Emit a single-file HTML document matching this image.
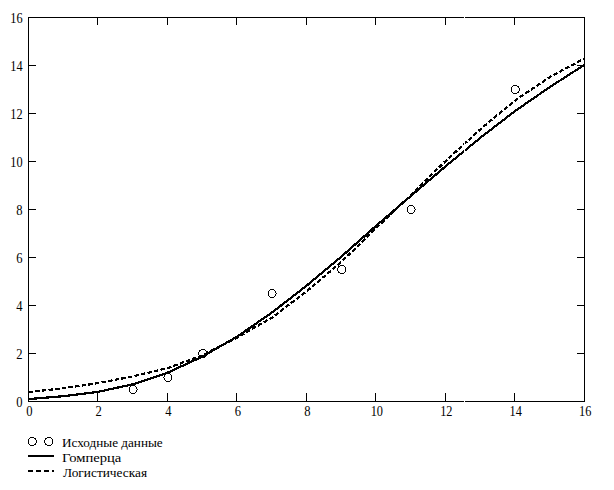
<!DOCTYPE html><html><head><meta charset="utf-8"><style>html,body{margin:0;padding:0;background:#fff;overflow:hidden}svg{display:block}text{font-family:"Liberation Serif",serif;font-size:13.33px;fill:#000}.t{font-size:13.6px}</style></head><body>
<svg width="614" height="490" viewBox="0 0 614 490">
<rect x="0" y="0" width="614" height="490" fill="#fff"/>
<g stroke="#000" stroke-width="1" fill="none" shape-rendering="crispEdges">
<rect x="28.5" y="17.5" width="556" height="384"/>
<line x1="97.5" y1="18" x2="97.5" y2="25"/>
<line x1="97.5" y1="393" x2="97.5" y2="401"/>
<line x1="29" y1="353.5" x2="36" y2="353.5"/>
<line x1="577" y1="353.5" x2="584" y2="353.5"/>
<line x1="167.5" y1="18" x2="167.5" y2="25"/>
<line x1="167.5" y1="393" x2="167.5" y2="401"/>
<line x1="29" y1="305.5" x2="36" y2="305.5"/>
<line x1="577" y1="305.5" x2="584" y2="305.5"/>
<line x1="236.5" y1="18" x2="236.5" y2="25"/>
<line x1="236.5" y1="393" x2="236.5" y2="401"/>
<line x1="29" y1="257.5" x2="36" y2="257.5"/>
<line x1="577" y1="257.5" x2="584" y2="257.5"/>
<line x1="306.5" y1="18" x2="306.5" y2="25"/>
<line x1="306.5" y1="393" x2="306.5" y2="401"/>
<line x1="29" y1="209.5" x2="36" y2="209.5"/>
<line x1="577" y1="209.5" x2="584" y2="209.5"/>
<line x1="375.5" y1="18" x2="375.5" y2="25"/>
<line x1="375.5" y1="393" x2="375.5" y2="401"/>
<line x1="29" y1="161.5" x2="36" y2="161.5"/>
<line x1="577" y1="161.5" x2="584" y2="161.5"/>
<line x1="445.5" y1="18" x2="445.5" y2="25"/>
<line x1="445.5" y1="393" x2="445.5" y2="401"/>
<line x1="29" y1="113.5" x2="36" y2="113.5"/>
<line x1="577" y1="113.5" x2="584" y2="113.5"/>
<line x1="514.5" y1="18" x2="514.5" y2="25"/>
<line x1="514.5" y1="393" x2="514.5" y2="401"/>
<line x1="29" y1="65.5" x2="36" y2="65.5"/>
<line x1="577" y1="65.5" x2="584" y2="65.5"/>
</g>
<g fill="none" stroke="#000" stroke-width="2" shape-rendering="crispEdges" stroke-linejoin="round">
<polyline points="28.50,399.10 63.25,396.22 98.00,391.90 132.75,384.27 167.50,372.70 202.25,356.67 237.00,336.70 271.75,312.69 306.50,285.76 341.25,256.71 376.00,225.82 410.75,196.14 445.50,166.37 480.25,137.86 515.00,111.07 549.75,87.10 584.50,64.78" stroke-width="2.2"/>
<polyline points="28.50,392.06 63.25,388.31 98.00,383.14 132.75,376.42 167.50,368.14 202.25,355.42 237.00,337.66 271.75,317.74 306.50,291.47 341.25,262.01 376.00,228.22 410.75,195.04 445.50,161.11 480.25,129.40 515.00,100.54 549.75,77.02 584.50,58.49" stroke-width="2.2" stroke-dasharray="4.5 2.2"/>
<line x1="28" y1="456" x2="54" y2="456"/>
<line x1="28" y1="471" x2="54" y2="471" stroke-dasharray="5 3"/>
</g>
<g fill="none" stroke="#000" stroke-width="1" shape-rendering="crispEdges">
<circle cx="133.15" cy="389.50" r="4"/>
<circle cx="167.90" cy="377.50" r="4"/>
<circle cx="202.65" cy="353.50" r="4"/>
<circle cx="272.15" cy="293.50" r="4"/>
<circle cx="341.65" cy="269.50" r="4"/>
<circle cx="411.15" cy="209.50" r="4"/>
<circle cx="515.40" cy="89.50" r="4"/>
<circle cx="32.4" cy="441.5" r="4"/><circle cx="48.7" cy="441.5" r="4"/>
</g>
<text class="t" x="16.3" y="407.2" textLength="6.3" lengthAdjust="spacingAndGlyphs">0</text>
<text class="t" x="26.2" y="416.1" textLength="6.3" lengthAdjust="spacingAndGlyphs">0</text>
<text class="t" x="16.3" y="359.2" textLength="6.3" lengthAdjust="spacingAndGlyphs">2</text>
<text class="t" x="95.6" y="416.1" textLength="6.3" lengthAdjust="spacingAndGlyphs">2</text>
<text class="t" x="16.3" y="311.2" textLength="6.3" lengthAdjust="spacingAndGlyphs">4</text>
<text class="t" x="165.2" y="416.1" textLength="6.3" lengthAdjust="spacingAndGlyphs">4</text>
<text class="t" x="16.3" y="263.2" textLength="6.3" lengthAdjust="spacingAndGlyphs">6</text>
<text class="t" x="234.7" y="416.1" textLength="6.3" lengthAdjust="spacingAndGlyphs">6</text>
<text class="t" x="16.3" y="215.2" textLength="6.3" lengthAdjust="spacingAndGlyphs">8</text>
<text class="t" x="304.2" y="416.1" textLength="6.3" lengthAdjust="spacingAndGlyphs">8</text>
<text class="t" x="10.3" y="167.2" textLength="12.3" lengthAdjust="spacingAndGlyphs">10</text>
<text class="t" x="370.7" y="416.1" textLength="12.3" lengthAdjust="spacingAndGlyphs">10</text>
<text class="t" x="10.3" y="119.2" textLength="12.3" lengthAdjust="spacingAndGlyphs">12</text>
<text class="t" x="440.2" y="416.1" textLength="12.3" lengthAdjust="spacingAndGlyphs">12</text>
<text class="t" x="10.3" y="71.2" textLength="12.3" lengthAdjust="spacingAndGlyphs">14</text>
<text class="t" x="509.6" y="416.1" textLength="12.3" lengthAdjust="spacingAndGlyphs">14</text>
<text class="t" x="10.3" y="23.2" textLength="12.3" lengthAdjust="spacingAndGlyphs">16</text>
<text class="t" x="579.1" y="416.1" textLength="12.3" lengthAdjust="spacingAndGlyphs">16</text>
<text x="62" y="447" textLength="100.7" lengthAdjust="spacingAndGlyphs">Исходные данные</text>
<text x="62" y="462" textLength="59.3" lengthAdjust="spacingAndGlyphs">Гомперца</text>
<text x="63" y="477">Логистическая</text>
<rect x="464" y="0" width="1" height="490" fill="#fff"/>
</svg></body></html>
